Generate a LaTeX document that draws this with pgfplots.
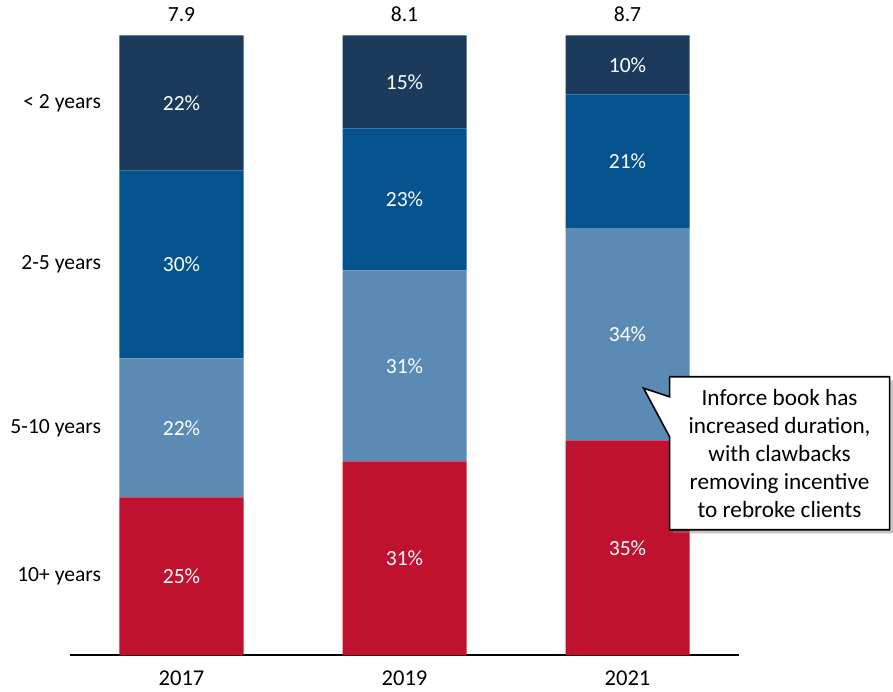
\documentclass[border=0pt]{standalone}
\usepackage{pgfplots}
\pgfplotsset{compat=1.18}
\usepackage{fontspec}
\setmainfont{Carlito}
\usetikzlibrary{shapes.callouts,shadows}
\definecolor{cNavy}{HTML}{1C3A5C}
\definecolor{cBlue}{HTML}{04538F}
\definecolor{cLight}{HTML}{5B8BB5}
\definecolor{cRed}{HTML}{C0122F}
\tikzset{seg/.style={text=white, font=\fontsize{10.8}{12}\selectfont, anchor=center},
  tot/.style={font=\fontsize{10.8}{12}\selectfont, anchor=base, yshift=7pt},
  cat/.style={font=\fontsize{10.8}{12}\selectfont, anchor=east, inner sep=0pt}}
\begin{document}
\begin{tikzpicture}
\begin{axis}[
  at={(35pt,16.5pt)}, anchor=south west,
  scale only axis, width=334.5pt, height=310pt,
  ybar stacked, bar width=62pt,
  xmin=-0.5, xmax=2.5, ymin=0, ymax=100,
  axis y line=none, axis x line*=bottom,
  axis line style={line width=1pt, black},
  xtick={0,1,2}, xticklabels={2017,2019,2021},
  major tick length=0pt,
  xticklabel style={font=\fontsize{11.3}{13}\selectfont, yshift=-4pt},
  clip=false,
]
\addplot[fill=cRed, draw=none] coordinates {(0,25.5) (1,31.3) (2,34.7)};
\addplot[fill=cLight, draw=none] coordinates {(0,22.4) (1,30.8) (2,34.2)};
\addplot[fill=cBlue, draw=none] coordinates {(0,30.3) (1,22.9) (2,21.6)};
\addplot[fill=cNavy, draw=none] coordinates {(0,21.8) (1,15.0) (2,9.5)};
\coordinate (a1) at (axis cs:0,12.75);
\coordinate (a2) at (axis cs:0,36.7);
\coordinate (a3) at (axis cs:0,63.05);
\coordinate (a4) at (axis cs:0,89.1);
\coordinate (b1) at (axis cs:1,15.65);
\coordinate (b2) at (axis cs:1,46.7);
\coordinate (b3) at (axis cs:1,73.55);
\coordinate (b4) at (axis cs:1,92.5);
\coordinate (c1) at (axis cs:2,17.35);
\coordinate (c2) at (axis cs:2,51.8);
\coordinate (c3) at (axis cs:2,79.7);
\coordinate (c4) at (axis cs:2,95.25);
\node[tot] at (axis cs:0,100) {7.9};
\node[tot] at (axis cs:1,100) {8.1};
\node[tot] at (axis cs:2,100) {8.7};
\node[cat] at (axis cs:-0.359,89.1) {< 2 years};
\node[cat] at (axis cs:-0.359,63.05) {2-5 years};
\node[cat] at (axis cs:-0.359,36.7) {5-10 years};
\node[cat] at (axis cs:-0.359,12.75) {10+ years};
\coordinate (tip) at (axis cs:2.072,43.1);
\coordinate (cc) at (axis cs:2.682,32.6);
\end{axis}
\node[seg] at (a1) {25\%};
\node[seg] at (a2) {22\%};
\node[seg] at (a3) {30\%};
\node[seg] at (a4) {22\%};
\node[seg] at (b1) {31\%};
\node[seg] at (b2) {31\%};
\node[seg] at (b3) {23\%};
\node[seg] at (b4) {15\%};
\node[seg] at (c1) {35\%};
\node[seg] at (c2) {34\%};
\node[seg] at (c3) {21\%};
\node[seg] at (c4) {10\%};
\node[rectangle callout, draw=black, line width=0.8pt, fill=white,
  drop shadow={shadow xshift=1.8pt, shadow yshift=-1.8pt, opacity=0.45},
  minimum width=110pt, minimum height=76.5pt, align=center, inner sep=1pt,
  callout absolute pointer={(tip)}, callout pointer width=20pt,
  font=\fontsize{11.6}{14}\selectfont]
  at (cc)
  {Inforce book has\\increased duration,\\with clawbacks\\removing incentive\\to rebroke clients};
\path (0,0) rectangle (446.5pt,344pt);
\end{tikzpicture}
\end{document}
